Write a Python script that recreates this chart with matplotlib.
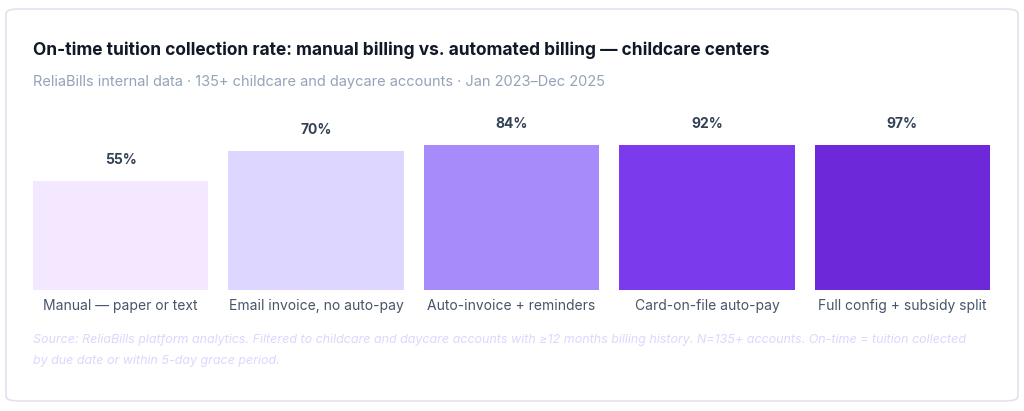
import matplotlib.pyplot as plt
from matplotlib.patches import FancyBboxPatch

categories = ['Manual — paper or text', 'Email invoice, no auto-pay', 'Auto-invoice + reminders',
              'Card-on-file auto-pay', 'Full config + subsidy split']
rates = [55, 70, 84, 92, 97]
labels = ['55%', '70%', '84%', '92%', '97%']
colors = ['#f3e8ff', '#ddd6fe', '#a78bfa', '#7c3aed', '#6d28d9']

plt.rcParams['font.family'] = ['Inter', 'DejaVu Sans']
fig = plt.figure(figsize=(10.24, 4.11), dpi=100)

# card
fig.patches.append(FancyBboxPatch((6/1024, 10/411), 1012/1024, 392/411,
                                  boxstyle='round,pad=0,rounding_size=0.012',
                                  transform=fig.transFigure, fc='white', ec='#e2e2ee', lw=1.2,
                                  zorder=-5))

fig.text(33/1024, 1-50/411, 'On-time tuition collection rate: manual billing vs. automated billing — childcare centers',
         fontsize=12.5, fontweight='bold', color='#111827', va='center')
fig.text(33/1024, 1-82/411, 'ReliaBills internal data · 135+ childcare and daycare accounts · Jan 2023–Dec 2025',
         fontsize=10.5, color='#94a3b8', va='center')

ax = fig.add_axes([33/1024, 1-290/411, 957/1024, 145/411])
ax.set_zorder(2)
ymax = 73.2  # chart caps bar height
w = 175/195
x = range(len(rates))
shown = [min(r, ymax) for r in rates]
ax.bar(x, shown, width=w, color=colors)
for i, (s, lab) in enumerate(zip(shown, labels)):
    ax.text(i, s + 7, lab, ha='center', va='bottom', fontsize=10, fontweight='bold', color='#334155')
ax.set_xlim(-w/2, len(rates) - 1 + w/2)
ax.set_ylim(0, ymax)
ax.axis('off')
for i, c in enumerate(categories):
    ax.text(i, -8, c, ha='center', va='center', fontsize=10, color='#475569')

fig.text(33/1024, 1-340/411, 'Source: ReliaBills platform analytics. Filtered to childcare and daycare accounts with ≥12 months billing history. N=135+ accounts. On-time = tuition collected',
         fontsize=9, style='italic', color='#ddd6fe', va='center')
fig.text(33/1024, 1-361/411, 'by due date or within 5-day grace period.',
         fontsize=9, style='italic', color='#ddd6fe', va='center')

fig.savefig('out.png', dpi=100)
